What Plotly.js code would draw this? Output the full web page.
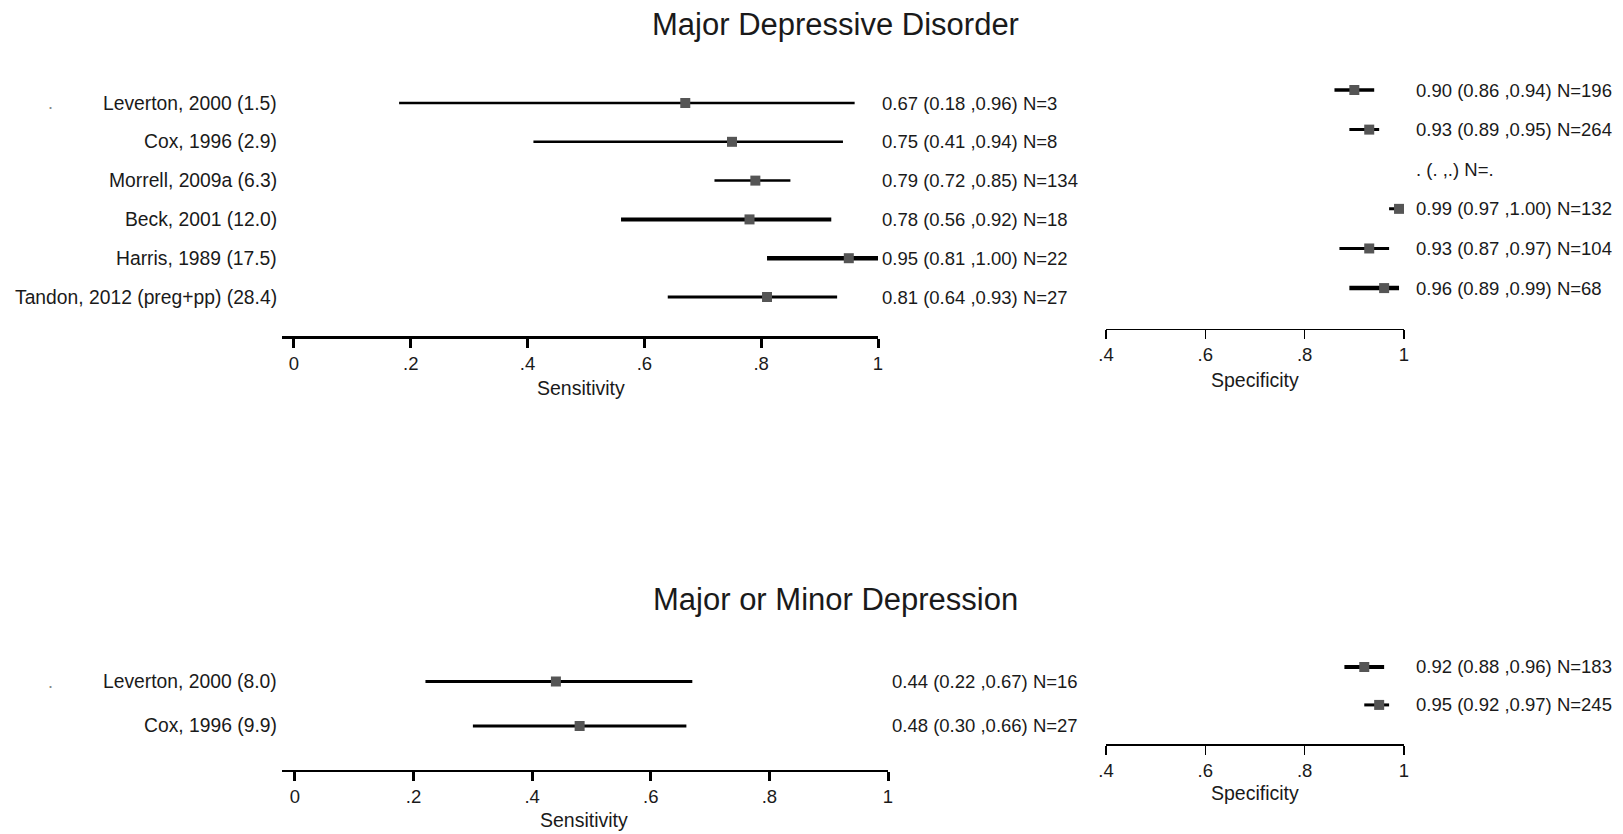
<!DOCTYPE html>
<html>
<head>
<meta charset="utf-8">
<script src="https://cdn.plot.ly/plotly-3.0.1.min.js"></script>
<style>
  html, body { margin: 0; padding: 0; background: #fff; }
  #chart { width: 1623px; height: 834px; }
</style>
</head>
<body>
<div id="chart"></div>
<script>
// ---------------- DATA ----------------
const titleTop = 'Major Depressive Disorder';
const titleBottom = 'Major or Minor Depression';

const studiesMDD = ['Leverton, 2000 (1.5)', 'Cox, 1996 (2.9)', 'Morrell, 2009a (6.3)', 'Beck, 2001 (12.0)', 'Harris, 1989 (17.5)', 'Tandon, 2012 (preg+pp) (28.4)'];
const sensMDD   = [0.67, 0.75, 0.79, 0.78, 0.95, 0.81];
const sensLoMDD = [0.18, 0.41, 0.72, 0.56, 0.81, 0.64];
const sensHiMDD = [0.96, 0.94, 0.85, 0.92, 1.00, 0.93];
const sensNMDD  = [3, 8, 134, 18, 22, 27];
const specMDD   = [0.90, 0.93, null, 0.99, 0.93, 0.96];
const specLoMDD = [0.86, 0.89, null, 0.97, 0.87, 0.89];
const specHiMDD = [0.94, 0.95, null, 1.00, 0.97, 0.99];
const specNMDD  = [196, 264, null, 132, 104, 68];

const studiesMin = ['Leverton, 2000 (8.0)', 'Cox, 1996 (9.9)'];
const sensMin   = [0.44, 0.48];
const sensLoMin = [0.22, 0.30];
const sensHiMin = [0.67, 0.66];
const sensNMin  = [16, 27];
const specMin   = [0.92, 0.95];
const specLoMin = [0.88, 0.92];
const specHiMin = [0.96, 0.97];
const specNMin  = [183, 245];

const sensTickVals = [0, 0.2, 0.4, 0.6, 0.8, 1];
const sensTickText = ['0', '.2', '.4', '.6', '.8', '1'];
const specTickVals = [0.4, 0.6, 0.8, 1];
const specTickText = ['.4', '.6', '.8', '1'];

// ---------------- STYLE ----------------
const W = 1623, H = 834;
const FONT = '"Liberation Sans", Arial, sans-serif';
const TXT = '#1a1a1a';
const MARK = '#555555';
const lwSensMDD = [2.6, 2.6, 2.5, 4, 4.5, 3];
const lwSpecMDD = [3.5, 3, 3, 3, 3, 4.5];
const lwSensMin = [3, 3];
const lwSpecMin = [4, 3];

const fx = px => px / W;
const fy = py => 1 - py / H;
const f2 = v => (v === null ? '.' : v.toFixed(2));
const fN = v => (v === null ? '.' : String(v));
const ciText = (p, lo, hi, n) => `${f2(p)} (${f2(lo)} ,${f2(hi)}) N=${fN(n)}`;

const traces = [];
const annotations = [];

function panel(ax, pts, los, his, lws) {
  const xa = 'x' + (ax === 1 ? '' : ax), ya = 'y' + (ax === 1 ? '' : ax);
  pts.forEach((p, i) => {
    if (p !== null) {
      traces.push({
        type: 'scatter', mode: 'lines', xaxis: xa, yaxis: ya,
        x: [los[i], his[i]], y: [i, i],
        line: { color: '#000', width: lws[i] }, hoverinfo: 'skip', showlegend: false, cliponaxis: false
      });
    }
  });
  traces.push({
    type: 'scatter', mode: 'markers', xaxis: xa, yaxis: ya,
    x: pts, y: pts.map((_, i) => i),
    marker: { symbol: 'square', size: 10, color: MARK },
    showlegend: false, cliponaxis: false
  });
  return ya;
}

function addTexts(yref, pts, los, his, ns, labels, labelX, textX, dotX) {
  pts.forEach((p, i) => {
    annotations.push({
      xref: 'paper', yref: yref, x: fx(textX), y: i, xanchor: 'left', yanchor: 'middle',
      text: ciText(p, los[i], his[i], ns[i]), showarrow: false,
      font: { family: FONT, size: 18.5, color: TXT }
    });
    if (labels) {
      annotations.push({
        xref: 'paper', yref: yref, x: fx(labelX), y: i, xanchor: 'right', yanchor: 'middle',
        text: labels[i], showarrow: false,
        font: { family: FONT, size: 19.3, color: TXT }
      });
    }
  });
  if (labels) {
    annotations.push({
      xref: 'paper', yref: yref, x: fx(dotX), y: 0, xanchor: 'center', yanchor: 'middle',
      text: '.', showarrow: false, font: { family: FONT, size: 18, color: '#888' }
    });
  }
}

let r;
r = panel(1, sensMDD, sensLoMDD, sensHiMDD, lwSensMDD);
addTexts(r, sensMDD, sensLoMDD, sensHiMDD, sensNMDD, studiesMDD, 279, 880, 50);
r = panel(2, specMDD, specLoMDD, specHiMDD, lwSpecMDD);
addTexts(r, specMDD, specLoMDD, specHiMDD, specNMDD, null, 0, 1414, 0);
r = panel(3, sensMin, sensLoMin, sensHiMin, lwSensMin);
addTexts(r, sensMin, sensLoMin, sensHiMin, sensNMin, studiesMin, 279, 890, 50);
r = panel(4, specMin, specLoMin, specHiMin, lwSpecMin);
addTexts(r, specMin, specLoMin, specHiMin, specNMin, null, 0, 1414, 0);

// titles
annotations.push({ xref: 'paper', yref: 'paper', x: fx(835), y: fy(24), xanchor: 'center', yanchor: 'middle',
  text: titleTop, showarrow: false, font: { family: FONT, size: 31, color: TXT } });
annotations.push({ xref: 'paper', yref: 'paper', x: fx(835), y: fy(599), xanchor: 'center', yanchor: 'middle',
  text: titleBottom, showarrow: false, font: { family: FONT, size: 31, color: TXT } });
// axis titles
const axTitles = [['Sensitivity', 581, 388], ['Specificity', 1255, 380], ['Sensitivity', 584, 820], ['Specificity', 1255, 793]];
axTitles.forEach(([t, x, y]) => annotations.push({ xref: 'paper', yref: 'paper', x: fx(x), y: fy(y),
  xanchor: 'center', yanchor: 'middle', text: t, showarrow: false, font: { family: FONT, size: 19.5, color: TXT } }));

function xAxis(domPx, range, vals, text, lw, tw, anchor) {
  return {
    domain: [fx(domPx[0]), fx(domPx[1])], range: range, anchor: anchor,
    showgrid: false, zeroline: false, showline: true, linecolor: '#000', linewidth: lw,
    ticks: 'outside', ticklen: 9, tickwidth: tw, tickcolor: '#000',
    tickvals: vals, ticktext: text, tickfont: { family: FONT, size: 18.5, color: TXT },
    fixedrange: true
  };
}
function yAxis(domPx, range, anchor) {
  return {
    domain: [fy(domPx[1]), fy(domPx[0])], range: range, anchor: anchor,
    showgrid: false, zeroline: false, showline: false, showticklabels: false, ticks: '', fixedrange: true
  };
}

const layout = {
  width: W, height: H, margin: { l: 0, r: 0, t: 0, b: 0 },
  paper_bgcolor: '#fff', plot_bgcolor: 'rgba(0,0,0,0)', showlegend: false,
  font: { family: FONT, color: TXT },
  xaxis:  xAxis([282, 878], [-0.0205, 1], sensTickVals, sensTickText, 3, 3, 'y'),
  yaxis:  yAxis([80, 336], [6.005, -0.593], 'x'),
  xaxis2: xAxis([1106, 1404], [0.4, 1], specTickVals, specTickText, 1.5, 1.5, 'y2'),
  yaxis2: yAxis([70, 328.5], [6.02, -0.505], 'x2'),
  xaxis3: xAxis([282, 888], [-0.0219, 1], sensTickVals, sensTickText, 2, 3, 'y3'),
  yaxis3: yAxis([650, 769.5], [1.978, -0.708], 'x3'),
  xaxis4: xAxis([1106, 1404], [0.4, 1], specTickVals, specTickText, 1.5, 1.5, 'y4'),
  yaxis4: yAxis([640, 744], [2.03, -0.711], 'x4'),
  annotations: annotations
};

Plotly.newPlot('chart', traces, layout, { displayModeBar: false, staticPlot: true });
</script>
</body>
</html>
